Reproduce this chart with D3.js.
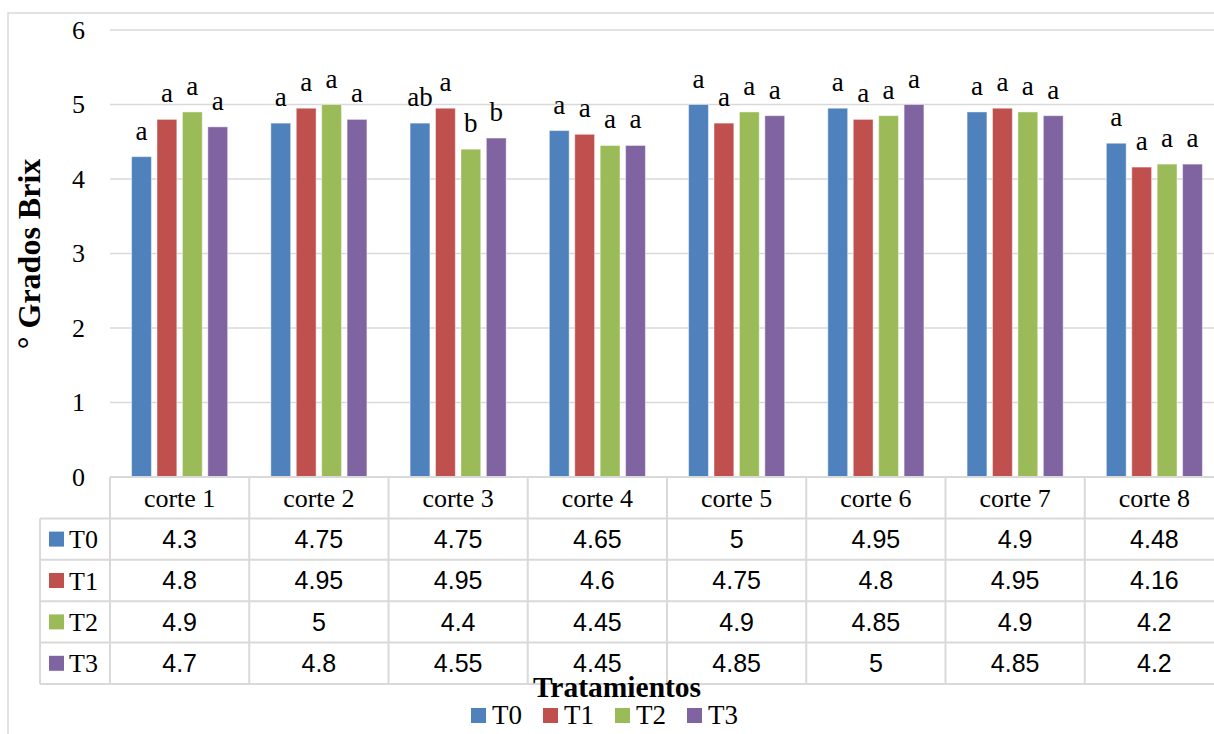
<!DOCTYPE html>
<html>
<head>
<meta charset="utf-8">
<script src="https://cdn.jsdelivr.net/npm/d3@7/dist/d3.min.js"></script>
<style>
  html, body { margin: 0; padding: 0; background: #fff; }
  svg { display: block; }
</style>
</head>
<body>
<svg id="chart" width="1214" height="734"></svg>
<script>
// Brix readings per cut and treatment
const categories = ["corte 1", "corte 2", "corte 3", "corte 4", "corte 5", "corte 6", "corte 7", "corte 8"];
const seriesNames = ["T0", "T1", "T2", "T3"];
const T0 = [4.3, 4.75, 4.75, 4.65, 5, 4.95, 4.9, 4.48];
const T1 = [4.8, 4.95, 4.95, 4.6, 4.75, 4.8, 4.95, 4.16];
const T2 = [4.9, 5, 4.4, 4.45, 4.9, 4.85, 4.9, 4.2];
const T3 = [4.7, 4.8, 4.55, 4.45, 4.85, 5, 4.85, 4.2];
// Significance letters (same order as the values)
const L0 = ["a", "a", "ab", "a", "a", "a", "a", "a"];
const L1 = ["a", "a", "a", "a", "a", "a", "a", "a"];
const L2 = ["a", "a", "b", "a", "a", "a", "a", "a"];
const L3 = ["a", "a", "b", "a", "a", "a", "a", "a"];
const yTicks = [0, 1, 2, 3, 4, 5, 6];
const colors = ["#4F81BD", "#C0504D", "#9BBB59", "#8064A2"];

const values = [T0, T1, T2, T3];
const letters = [L0, L1, L2, L3];

const svg = d3.select("#chart");
const serif = "'Liberation Serif', 'Times New Roman', serif";
const sans = "'Liberation Sans', Arial, sans-serif";
const gridColor = "#d9d9d9";

// chart frame
svg.append("rect").attr("x", 8).attr("y", 13).attr("width", 1240).attr("height", 760)
  .attr("fill", "none").attr("stroke", gridColor).attr("stroke-width", 1.5);

const plot = { left: 110, right: 1224, top: 30, bottom: 477 };

const x0 = d3.scaleBand().domain(categories).range([plot.left, plot.right]).paddingInner(0).paddingOuter(0);
const cw = x0.bandwidth();
const x1 = d3.scaleBand().domain(seriesNames).range([cw * 0.155, cw * 0.845]).paddingInner(0.22).paddingOuter(0);
const y = d3.scaleLinear().domain([0, 6]).range([plot.bottom, plot.top]);

// gridlines
svg.append("g").selectAll("line").data(yTicks.filter(t => t > 0)).join("line")
  .attr("x1", plot.left).attr("x2", plot.right)
  .attr("y1", d => y(d)).attr("y2", d => y(d))
  .attr("stroke", gridColor).attr("stroke-width", 1.5);

// y axis labels
const yAxis = d3.axisLeft(y).tickValues(yTicks).tickSize(0).tickPadding(0).tickFormat(d3.format("d"));
const gy = svg.append("g").attr("transform", `translate(85,0)`).call(yAxis);
gy.select(".domain").remove();
gy.selectAll("text").attr("font-family", serif).attr("font-size", 26).attr("fill", "#000");

// y axis title
svg.append("text")
  .attr("transform", `translate(40,254) rotate(-90)`)
  .attr("text-anchor", "middle")
  .attr("font-family", serif).attr("font-weight", "bold").attr("font-size", 32)
  .text("° Grados Brix");

// bars
const groups = svg.append("g").selectAll("g").data(categories).join("g")
  .attr("transform", d => `translate(${x0(d)},0)`);

groups.each(function (cat, ci) {
  const g = d3.select(this);
  seriesNames.forEach((s, si) => {
    const v = values[si][ci];
    g.append("rect")
      .attr("x", x1(s)).attr("y", y(v))
      .attr("width", x1.bandwidth()).attr("height", y(0) - y(v))
      .attr("fill", colors[si])
      .attr("stroke", "#ffffff").attr("stroke-opacity", 0.45).attr("stroke-width", 1);
    g.append("text")
      .attr("x", x1(s) + x1.bandwidth() / 2).attr("y", y(v) - 17)
      .attr("text-anchor", "middle")
      .attr("font-family", serif).attr("font-size", 27)
      .text(letters[si][ci]);
  });
});

// data table
const rowH = 41.4;
const tableTop = plot.bottom;
const tableLeft = 40;
const nRows = seriesNames.length;
const tableBottom = tableTop + rowH * (nRows + 1);
const tbl = svg.append("g");

// horizontal lines
tbl.append("line").attr("x1", plot.left).attr("x2", plot.right)
  .attr("y1", tableTop).attr("y2", tableTop).attr("stroke", gridColor).attr("stroke-width", 2);
d3.range(1, nRows + 2).forEach(r => {
  tbl.append("line").attr("x1", tableLeft).attr("x2", plot.right)
    .attr("y1", tableTop + r * rowH).attr("y2", tableTop + r * rowH)
    .attr("stroke", gridColor).attr("stroke-width", 2);
});
// vertical lines
tbl.append("line").attr("x1", tableLeft).attr("x2", tableLeft)
  .attr("y1", tableTop + rowH).attr("y2", tableBottom).attr("stroke", gridColor).attr("stroke-width", 2);
categories.forEach(c => {
  tbl.append("line").attr("x1", x0(c)).attr("x2", x0(c))
    .attr("y1", tableTop).attr("y2", tableBottom).attr("stroke", gridColor).attr("stroke-width", 2);
});
tbl.append("line").attr("x1", plot.right).attr("x2", plot.right)
  .attr("y1", tableTop).attr("y2", tableBottom).attr("stroke", gridColor).attr("stroke-width", 2);

// category header
tbl.selectAll("text.cat").data(categories).join("text").attr("class", "cat")
  .attr("x", d => x0(d) + cw / 2).attr("y", tableTop + rowH / 2)
  .attr("dy", "0.35em").attr("text-anchor", "middle")
  .attr("font-family", serif).attr("font-size", 26)
  .text(d => d);

// rows
seriesNames.forEach((s, si) => {
  const cy = tableTop + rowH * (si + 1) + rowH / 2;
  tbl.append("rect").attr("x", 49).attr("y", cy - 7.5).attr("width", 15).attr("height", 15).attr("fill", colors[si]);
  tbl.append("text").attr("x", 69).attr("y", cy).attr("dy", "0.35em")
    .attr("font-family", serif).attr("font-size", 26).text(s);
  categories.forEach((c, ci) => {
    tbl.append("text").attr("x", x0(c) + cw / 2).attr("y", cy).attr("dy", "0.35em")
      .attr("text-anchor", "middle")
      .attr("font-family", sans).attr("font-size", 25)
      .text(values[si][ci]);
  });
});

// x axis title
svg.append("text").attr("x", 617).attr("y", 697).attr("text-anchor", "middle")
  .attr("font-family", serif).attr("font-weight", "bold").attr("font-size", 29.5)
  .text("Tratamientos");

// legend
const legend = svg.append("g").selectAll("g").data(seriesNames).join("g")
  .attr("transform", (d, i) => `translate(${471 + i * 72},0)`);
legend.append("rect").attr("x", 0).attr("y", 708).attr("width", 15).attr("height", 15)
  .attr("fill", (d, i) => colors[i]);
legend.append("text").attr("x", 21).attr("y", 724)
  .attr("font-family", serif).attr("font-size", 27).text(d => d);
</script>
</body>
</html>
